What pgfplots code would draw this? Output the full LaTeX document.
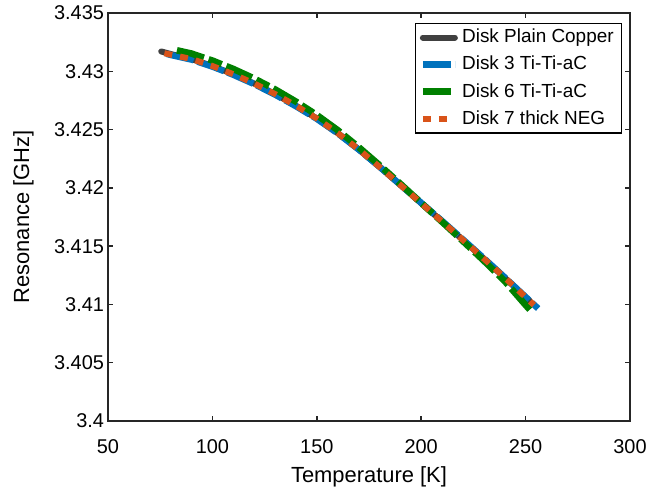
\documentclass[border=0pt]{standalone}
\usepackage{fontspec}
\setmainfont{Liberation Sans}
\usepackage{pgfplots}
\pgfplotsset{compat=1.18}
\definecolor{mblue}{rgb}{0,0.447,0.741}
\definecolor{mgreen}{rgb}{0,0.5,0}
\definecolor{morange}{rgb}{0.85,0.325,0.098}
\definecolor{mblack}{rgb}{0.25,0.25,0.25}
\definecolor{axgray}{rgb}{0.15,0.15,0.15}
\begin{document}
\begin{tikzpicture}
\begin{axis}[name=ax, scale only axis, width=261bp, height=204bp,
 xmin=50, xmax=300, ymin=3.4, ymax=3.435,
 xtick={50,100,150,200,250,300}, xticklabels={50,100,150,200,250,300},
 ytick={3.4,3.405,3.41,3.415,3.42,3.425,3.43,3.435},
 yticklabels={3.4,3.405,3.41,3.415,3.42,3.425,3.43,3.435},
 scaled y ticks=false,
 tick align=inside, major tick length=2.5bp,
 axis line style={axgray, line width=0.75bp},
 tick style={axgray, line width=0.75bp},
 ticklabel style={font=\fontsize{10}{12}\selectfont, text=black},
 xticklabel style={yshift=-6bp},
 yticklabel style={xshift=1.5bp},
 xlabel={Temperature [K]}, ylabel={Resonance [GHz]},
 label style={font=\fontsize{11}{13}\selectfont},
 xlabel style={at={(axis description cs:0.5,-0.138)}, anchor=center},
 ylabel style={at={(axis description cs:-0.162,0.5)}, anchor=center},
 legend cell align=left,
 legend image code/.code={\draw[#1] (0bp,0bp) -- (16bp,0bp);},
 legend style={at={(axis description cs:0.984,0.975)}, anchor=north east,
   draw=black, line width=0.6bp, fill=white, outer sep=0pt,
   font=\fontsize{9.5}{11}\selectfont,
   inner xsep=2bp, inner ysep=1bp, row sep=1.2bp,
   /tikz/every even column/.append style={column sep=0bp}},
]
\addplot[mblack, line width=3bp, line cap=round] coordinates {
(75.5,3.43170) (80,3.43148) (90,3.43105) (100,3.43045) (110,3.42975)
(120,3.42895) (130,3.42805) (140,3.42705) (150,3.42595) (160,3.42470)
(170,3.42330) (180,3.42180) (190,3.42025) (200,3.41868) (210,3.41712)
(220,3.41553) (230,3.41393) (240,3.41230) (250,3.41062) (252,3.41030)};
\addlegendentry{Disk Plain Copper}
\addplot[mblue, line width=3.2bp, dash pattern=on 14bp off 2bp] coordinates {
(78,3.43150) (80,3.43140) (90,3.43100) (100,3.43040) (110,3.42970)
(120,3.42890) (130,3.42800) (140,3.42700) (150,3.42592) (160,3.42468)
(170,3.42330) (180,3.42182) (190,3.42028) (200,3.41872) (210,3.41716)
(220,3.41557) (230,3.41396) (240,3.41232) (250,3.41064) (256,3.40965)};
\addlegendentry{Disk 3 Ti-Ti-aC}
\addplot[mgreen, line width=3.3bp, dash pattern=on 14bp off 2.5bp on 7bp off 2.5bp] coordinates {
(83,3.43180) (90,3.43152) (100,3.43092) (110,3.43020) (120,3.42938)
(130,3.42845) (140,3.42740) (150,3.42625) (160,3.42495) (170,3.42350)
(180,3.42195) (190,3.42035) (200,3.41870) (210,3.41708) (220,3.41543)
(230,3.41375) (240,3.41200) (250,3.40995) (253,3.40935)};
\addlegendentry{Disk 6 Ti-Ti-aC}
\addplot[morange, line width=3bp, dash pattern=on 4bp off 4bp] coordinates {
(77,3.43155) (80,3.43143) (90,3.43105) (100,3.43045) (110,3.42975)
(120,3.42895) (130,3.42805) (140,3.42705) (150,3.42595) (160,3.42470)
(170,3.42330) (180,3.42180) (190,3.42025) (200,3.41868) (210,3.41712)
(220,3.41553) (230,3.41393) (240,3.41230) (250,3.41062) (254,3.40995)};
\addlegendentry{Disk 7 thick NEG}
\end{axis}
\pgfresetboundingbox
\path ([shift={(-54bp,-35bp)}]ax.south west) rectangle ([shift={(10.5bp,6.5bp)}]ax.north east);
\end{tikzpicture}
\end{document}
